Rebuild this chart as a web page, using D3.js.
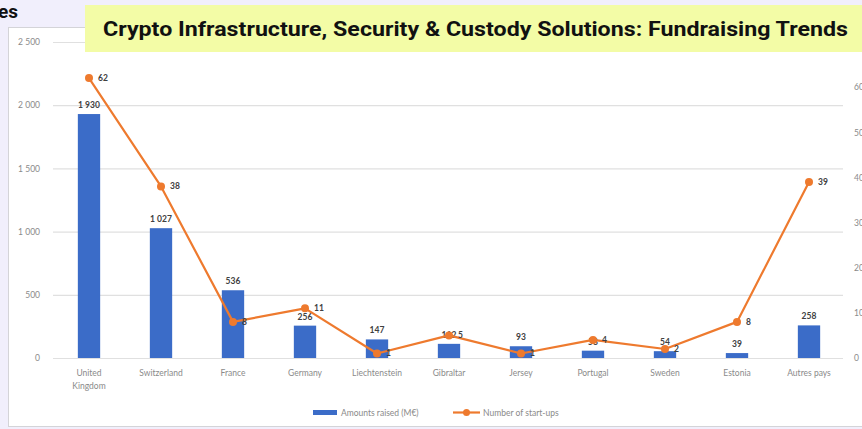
<!DOCTYPE html>
<html>
<head>
<meta charset="utf-8">
<script src="https://cdn.jsdelivr.net/npm/d3@7"></script>
<style>
  html, body { margin: 0; padding: 0; background: #f1effc; }
  svg { display: block; }
</style>
</head>
<body>
<svg id="chart" width="862" height="429"></svg>
<script>
// Fundraising by country: amounts raised (bars) and number of start-ups (line)
const countries = ["United Kingdom", "Switzerland", "France", "Germany", "Liechtenstein",
  "Gibraltar", "Jersey", "Portugal", "Sweden", "Estonia", "Autres pays"];
const amountsRaised = [1930, 1027, 536, 256, 147, 112, 93, 58, 54, 39, 258];
const startupCounts = [62, 38, 8, 11, 1, 5, 1, 4, 2, 8, 39];
const leftTicks = [0, 500, 1000, 1500, 2000, 2500];
const rightTicks = [0, 10, 20, 30, 40, 50, 60, 70];
const titleText = "Crypto Infrastructure, Security & Custody Solutions: Fundraising Trends";

const svg = d3.select("#chart");
const W = 862, H = 429;
const plot = { left: 53, right: 845, top: 42, bottom: 358 };

const fmtSpace = v => d3.format(",d")(v).replace(",", " ");

// White panel behind the chart
svg.append("rect").attr("x", 8.5).attr("y", 27.5).attr("width", W).attr("height", 399)
  .attr("fill", "#ffffff").attr("stroke", "#d4d4d8").attr("stroke-width", 1);

// Heading fragment running off the top left edge
svg.append("text").attr("x", -2).attr("y", 18).text("es")
  .attr("font-family", "Roboto, sans-serif").attr("font-weight", 700)
  .attr("font-size", 19).attr("fill", "#111");

const x = d3.scaleBand().domain(countries).range([plot.left, plot.right]).paddingInner(0.69).paddingOuter(0.345);
const yL = d3.scaleLinear().domain([0, 2500]).range([plot.bottom, plot.top]);
const yR = d3.scaleLinear().domain([0, 70]).range([plot.bottom, plot.top]);

// Gridlines
svg.append("g").selectAll("line").data(leftTicks).join("line")
  .attr("x1", plot.left).attr("x2", plot.right - 2)
  .attr("y1", d => yL(d) + 0.5).attr("y2", d => yL(d) + 0.5)
  .attr("stroke", "#e0e0e0").attr("stroke-width", 1.2);

// Left axis
const axL = svg.append("g").attr("transform", `translate(${plot.left - 10},0)`)
  .call(d3.axisLeft(yL).tickValues(leftTicks).tickSize(0).tickFormat(fmtSpace));
axL.select(".domain").remove();
axL.selectAll("text").attr("font-family", "Lato, sans-serif").attr("font-size", 8.5).attr("fill", "#8a8a8a");

// Right axis (runs past the right edge of the page)
const axR = svg.append("g").attr("transform", `translate(${plot.right + 6},0)`)
  .call(d3.axisRight(yR).tickValues(rightTicks).tickSize(0));
axR.select(".domain").remove();
axR.selectAll("text").attr("font-family", "Lato, sans-serif").attr("font-size", 8.5).attr("fill", "#8a8a8a");

// Bars
svg.append("g").selectAll("rect").data(countries).join("rect")
  .attr("x", d => x(d)).attr("width", x.bandwidth())
  .attr("y", (d, i) => yL(amountsRaised[i]))
  .attr("height", (d, i) => yL(0) - yL(amountsRaised[i]))
  .attr("fill", "#3b6cc8");

// Bar value labels
svg.append("g").selectAll("text").data(countries).join("text")
  .attr("x", d => x(d) + x.bandwidth() / 2)
  .attr("y", (d, i) => yL(amountsRaised[i]) - 6)
  .attr("text-anchor", "middle")
  .attr("font-family", "Lato, sans-serif").attr("font-weight", 700).attr("font-size", 8.5)
  .attr("fill", "#404040")
  .text((d, i) => fmtSpace(amountsRaised[i]));

// Start-up line
const line = d3.line()
  .x(d => x(d.c) + x.bandwidth() / 2)
  .y(d => yR(d.v));
const pts = countries.map((c, i) => ({ c, v: startupCounts[i] }));
svg.append("path").datum(pts).attr("d", line)
  .attr("fill", "none").attr("stroke", "#ee7a2e").attr("stroke-width", 2.2)
  .attr("stroke-linejoin", "round");
svg.append("g").selectAll("circle").data(pts).join("circle")
  .attr("cx", d => x(d.c) + x.bandwidth() / 2).attr("cy", d => yR(d.v))
  .attr("r", 4).attr("fill", "#ee7a2e");
svg.append("g").selectAll("text").data(pts).join("text")
  .attr("x", d => x(d.c) + x.bandwidth() / 2 + 9)
  .attr("y", d => yR(d.v) + 3)
  .attr("font-family", "Lato, sans-serif").attr("font-weight", 700).attr("font-size", 8.5)
  .attr("fill", "#404040")
  .text(d => d.v);

// Category labels
const xl = svg.append("g").selectAll("text").data(countries).join("text")
  .attr("x", d => x(d) + x.bandwidth() / 2)
  .attr("y", 376)
  .attr("text-anchor", "middle")
  .attr("font-family", "Lato, sans-serif").attr("font-size", 8.5).attr("fill", "#8a8a8a");
xl.each(function(d) {
  const t = d3.select(this);
  const parts = d === "United Kingdom" ? ["United", "Kingdom"] : [d];
  parts.forEach((p, k) => t.append("tspan").attr("x", x(d) + x.bandwidth() / 2).attr("dy", k ? 12.5 : 0).text(p));
});

// Legend
const lg = svg.append("g").attr("font-family", "Lato, sans-serif").attr("font-size", 8.5).attr("fill", "#8a8a8a");
lg.append("rect").attr("x", 313).attr("y", 410).attr("width", 24).attr("height", 5).attr("fill", "#3b6cc8");
lg.append("text").attr("x", 341).attr("y", 416).text("Amounts raised (M€)");
lg.append("line").attr("x1", 453).attr("x2", 480).attr("y1", 412.5).attr("y2", 412.5)
  .attr("stroke", "#ee7a2e").attr("stroke-width", 2.2);
lg.append("circle").attr("cx", 466.5).attr("cy", 412.5).attr("r", 3.5).attr("fill", "#ee7a2e");
lg.append("text").attr("x", 483).attr("y", 416).text("Number of start-ups");

// Title banner
svg.append("rect").attr("x", 85).attr("y", 5).attr("width", W - 85).attr("height", 47).attr("fill", "#f3fca6");
svg.append("text").attr("x", 103).attr("y", 36).text(titleText)
  .attr("font-family", "Roboto, sans-serif").attr("font-weight", 700).attr("font-size", 19.5)
  .attr("fill", "#111").attr("textLength", 745).attr("lengthAdjust", "spacingAndGlyphs");
</script>
</body>
</html>
